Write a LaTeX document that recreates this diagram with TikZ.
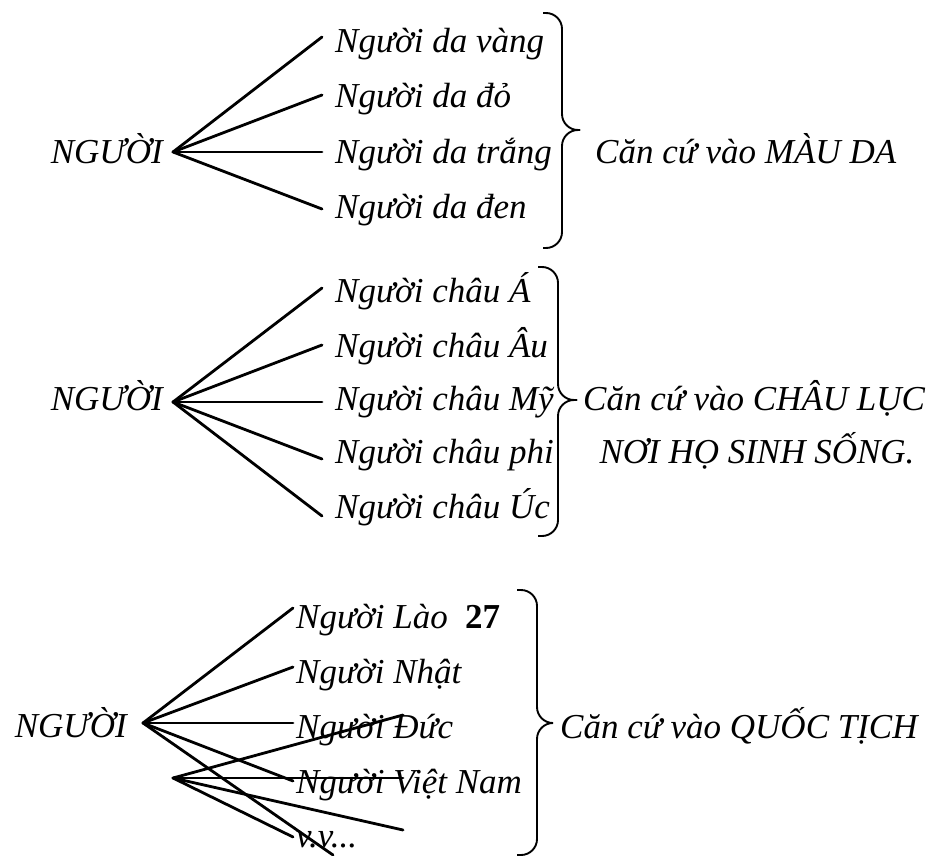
\documentclass[tikz,border=0pt]{standalone}
\usepackage{fontspec}
\setmainfont{Liberation Serif}
\usetikzlibrary{positioning}
\newcommand{\txtsize}{\fontsize{35}{40}\selectfont}
\tikzset{
    leaf/.style={anchor=base west, inner sep=0pt, font=\txtsize\itshape},
    root/.style={anchor=base east, inner sep=0pt, font=\txtsize\itshape},
    num/.style={inner sep=0pt, font=\txtsize\bfseries},
    spoke/.style={line width=2.8pt, line cap=round},
    curly/.style={line width=1.9pt, rounded corners=16pt},
}

\begin{document}
\begin{tikzpicture}[x=1pt, y=-1pt]
    \useasboundingbox (0,0) rectangle (931,856);
    % mau da
    \coordinate (h1) at (173,152);
    \node[root] (r1) at (163,163) {NGƯỜI};
    \foreach \y/\b/\t [count=\i] in {37/53/vàng, 95/108/đỏ, 152/163/trắng, 209/218/đen}{
        \coordinate (a\i) at (322,\y);
        \node[leaf] (l\i) at (335,\b) {Người da \t};
        \draw[spoke] (h1) -- (a\i);
    }
    \draw[curly] (543,13) -- (562,13) -- (562,130) -- (580,130);
    \draw[curly] (543,248) -- (562,248) -- (562,130) -- (580,130);
    \node[leaf] (c1) at (595,163) {Căn cứ vào MÀU DA};
    % chau luc
    \coordinate (h2) at (173,402);
    \node[root] (r2) at (163,410) {NGƯỜI};
    \foreach \y/\b/\t [count=\i] in {288/302/Á, 345/357/Âu, 402/410/Mỹ, 459/463/phi, 516/518/Úc}{
        \coordinate (b\i) at (322,\y);
        \node[leaf] (m\i) at (335,\b) {Người châu \t};
        \draw[spoke] (h2) -- (b\i);
    }
    \draw[curly] (538,267) -- (558,267) -- (558,400) -- (577,400);
    \draw[curly] (538,536) -- (558,536) -- (558,400) -- (577,400);
    \node[leaf] (c2) at (583,410) {Căn cứ vào CHÂU LỤC};
    \node[leaf, anchor=base] (c2b) at (757,463) {NƠI HỌ SINH SỐNG.};
    % quoc tich
    \coordinate (h3) at (143,723);
    \coordinate (h4) at (173,778);
    \node[root] (r3) at (127,737) {NGƯỜI};
    \foreach \y/\b/\t [count=\i] in {608/628/Lào, 667/683/Nhật, 723/738/Đức, 781/793/Việt Nam}{
        \coordinate (d\i) at (293,\y);
        \node[leaf] (n\i) at (296,\b) {Người \t};
        \draw[spoke] (h3) -- (d\i);
    }
    \node[num, base right=17pt of n1] (n1x) {27};
    \node[leaf] (n5) at (296,847) {v.v...};
    \coordinate (d5) at (333,855);
    \draw[spoke] (h3) -- (d5);
    \foreach \x/\y [count=\i] in {403/715, 403/778, 403/830, 293/837}{
        \coordinate (e\i) at (\x,\y);
        \draw[spoke] (h4) -- (e\i);
    }
    \draw[curly] (517,590) -- (537,590) -- (537,723) -- (553,723);
    \draw[curly] (517,855) -- (537,855) -- (537,723) -- (553,723);
    \node[leaf] (c3) at (560,738) {Căn cứ vào QUỐC TỊCH};
\end{tikzpicture}
\end{document}
